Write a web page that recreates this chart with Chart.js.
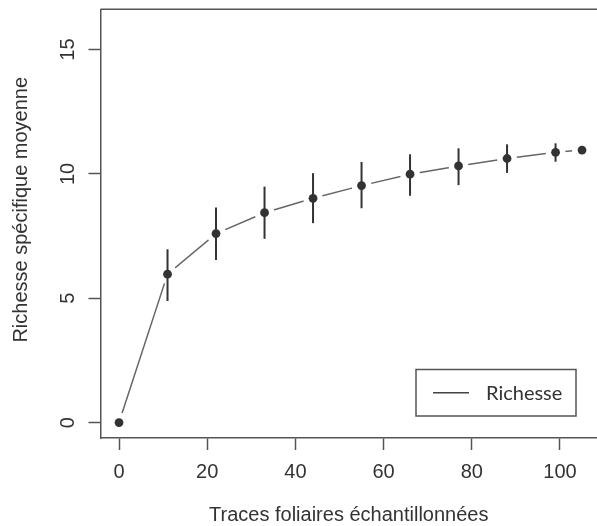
<!DOCTYPE html>
<html>
<head>
<meta charset="utf-8">
<script src="https://cdn.jsdelivr.net/npm/chart.js@4"></script>
<style>
  html, body { margin: 0; padding: 0; background: #fff; }
  #wrap { width: 597px; height: 526px; }
</style>
</head>
<body>
<div id="wrap"><canvas id="chart" width="597" height="526"></canvas></div>
<script>
// traces sampled / mean richness, with error bar ends
const samples = [0, 11, 22, 33, 44, 55, 66, 77, 88, 99, 105];
const richness = [0, 5.97, 7.6, 8.44, 9.02, 9.53, 9.99, 10.32, 10.62, 10.87, 10.96];
const upper = [null, 6.97, 8.65, 9.49, 10.03, 10.48, 10.79, 11.03, 11.19, 11.23, null];
const lower = [null, 4.89, 6.54, 7.39, 8.02, 8.62, 9.12, 9.55, 10.04, 10.49, null];
const xTicks = [0, 20, 40, 60, 80, 100];
const yTicks = [0, 5, 10, 15];

const pts = samples.map((x, i) => ({ x: x, y: richness[i] }));
const axisColor = '#555';
const textColor = '#333';
const tickFont = { family: "'Liberation Sans', Arial, sans-serif", size: 20 };

// error bars
const errorBars = {
  id: 'errorBars',
  afterDatasetsDraw(chart) {
    const { ctx, scales: { x, y } } = chart;
    ctx.save();
    ctx.strokeStyle = '#333';
    ctx.lineWidth = 2;
    samples.forEach((s, i) => {
      if (upper[i] == null) return;
      const px = x.getPixelForValue(s);
      ctx.beginPath();
      ctx.moveTo(px, y.getPixelForValue(lower[i]));
      ctx.lineTo(px, y.getPixelForValue(upper[i]));
      ctx.stroke();
    });
    ctx.restore();
  }
};

// top border + legend box
const frame = {
  id: 'frame',
  afterDraw(chart) {
    const { ctx, chartArea } = chart;
    ctx.save();
    ctx.strokeStyle = axisColor;
    ctx.lineWidth = 1.5;
    ctx.beginPath();
    ctx.moveTo(chartArea.left, chartArea.top);
    ctx.lineTo(chartArea.right, chartArea.top);
    ctx.stroke();

    // legend
    ctx.lineWidth = 1.5;
    ctx.strokeRect(416, 369.5, 160, 46.5);
    ctx.strokeStyle = '#444';
    ctx.beginPath();
    ctx.moveTo(433, 392.7);
    ctx.lineTo(469, 392.7);
    ctx.stroke();
    ctx.fillStyle = textColor;
    ctx.font = "20px Lato, 'Open Sans', sans-serif";
    ctx.textBaseline = 'middle';
    ctx.fillText(chart.data.datasets[0].label, 486, 393.5);
    ctx.restore();
  }
};

new Chart(document.getElementById('chart'), {
  type: 'scatter',
  data: {
    datasets: [
      { label: 'Richesse', data: pts, showLine: true, borderColor: '#666', borderWidth: 1.5,
        pointRadius: 0, order: 3 },
      { label: 'gap', data: pts, showLine: false, pointRadius: 10, pointBorderWidth: 0,
        pointBackgroundColor: '#fff', order: 2 },
      { label: 'points', data: pts, showLine: false, pointRadius: 4.4, pointBorderWidth: 0,
        pointBackgroundColor: '#333', order: 1 }
    ]
  },
  options: {
    responsive: false,
    animation: false,
    layout: { autoPadding: false, padding: { top: 9.3, right: 0, left: 0, bottom: 0 } },
    plugins: { legend: { display: false }, tooltip: { enabled: false } },
    scales: {
      x: {
        type: 'linear',
        min: -4.2,
        max: 108.4,
        afterBuildTicks: s => { s.ticks = xTicks.map(v => ({ value: v })); },
        afterFit: s => { s.height = 88; s.paddingLeft = 0; s.paddingRight = 0; },
        grid: { drawOnChartArea: false, drawTicks: true, tickLength: 12, tickColor: axisColor, tickWidth: 1.5 },
        border: { display: true, color: axisColor, width: 1.5 },
        ticks: { color: textColor, font: tickFont, padding: 10, maxRotation: 0 },
        title: { display: true, text: 'Traces foliaires échantillonnées', color: textColor,
          font: { family: "'Liberation Sans', Arial, sans-serif", size: 20, lineHeight: 1.1 },
          padding: { top: 0, bottom: 0 } }
      },
      y: {
        type: 'linear',
        min: -0.62,
        max: 16.62,
        afterBuildTicks: s => { s.ticks = yTicks.map(v => ({ value: v })); },
        afterFit: s => { s.width = 100.5; s.paddingTop = 0; s.paddingBottom = 0; },
        grid: { drawOnChartArea: false, drawTicks: true, tickLength: 12, tickColor: axisColor, tickWidth: 1.5 },
        border: { display: true, color: axisColor, width: 1.5 },
        ticks: { color: textColor, font: tickFont, padding: 9, minRotation: 90, maxRotation: 90, crossAlign: 'center' },
        title: { display: true, text: '     Richesse spécifique moyenne', color: textColor,
          font: { family: "'Liberation Sans', Arial, sans-serif", size: 20, lineHeight: 1.1 },
          padding: { top: 10, bottom: 0 } }
      }
    }
  },
  plugins: [errorBars, frame]
});
</script>
</body>
</html>
